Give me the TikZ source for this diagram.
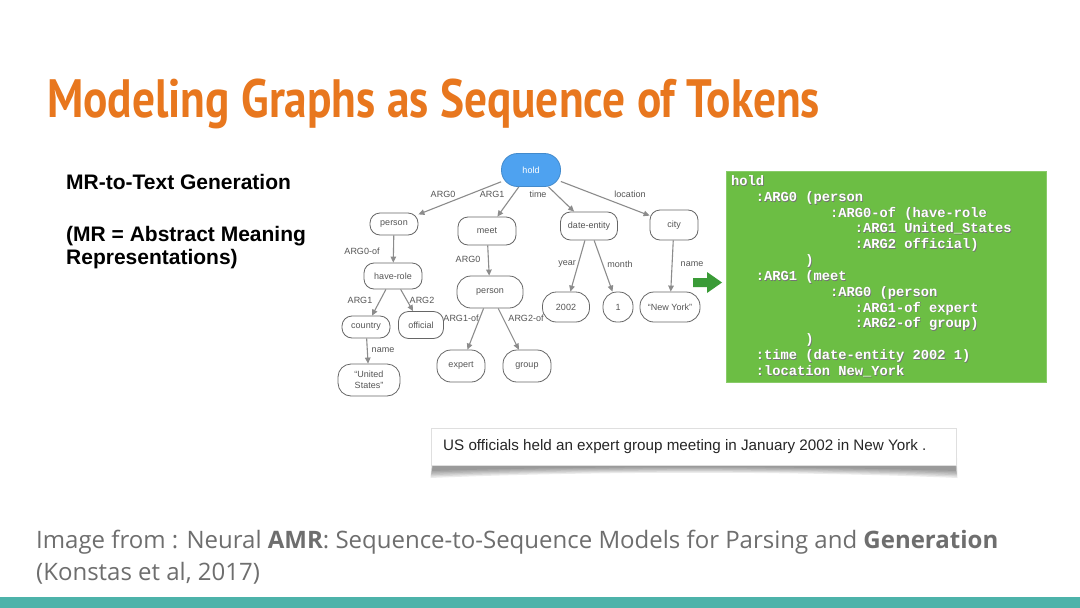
\documentclass[tikz,border=0pt]{standalone}
\usepackage{fontspec}
\setmainfont{Liberation Sans}
\setmonofont{Liberation Mono}
\newfontfamily\titlefont{PT Sans}
\newfontfamily\footfont{Open Sans}
\usetikzlibrary{arrows.meta}
\definecolor{titleorange}{RGB}{232,119,30}
\definecolor{holdblue}{RGB}{78,162,240}
\definecolor{codegreen}{RGB}{108,190,68}
\definecolor{arrowgreen}{RGB}{58,155,55}
\definecolor{footgray}{RGB}{110,110,110}
\definecolor{barteal}{RGB}{77,179,170}
\definecolor{edgegray}{RGB}{140,140,140}
\definecolor{nodetext}{RGB}{85,85,85}
\begin{document}
\begin{tikzpicture}[x=1pt,y=-1pt,
  amr/.style={draw=gray!80!black, line width=0.8pt, rounded corners=10pt, fill=white,
    font=\fontsize{9}{10.5}\selectfont, text=nodetext, inner sep=0pt, align=center},
  elab/.style={font=\fontsize{9}{10}\selectfont, text=nodetext, inner sep=0pt},
  rel/.style={draw=edgegray, line width=1.1pt, -{Triangle[length=6pt,width=5.5pt]}},
  codetext/.style={font=\ttfamily\bfseries\fontsize{13.75}{15.8}\selectfont, inner sep=0pt, anchor=base west},
  lefttext/.style={font=\bfseries\fontsize{21}{24}\selectfont, inner sep=0pt, anchor=base west, text=black},
  foot/.style={font=\footfont\fontsize{24}{28}\selectfont, text=footgray, inner sep=0pt, anchor=base west}
]
\useasboundingbox (0,0) rectangle (1080,608);
\fill[white] (0,0) rectangle (1080,608);

% title
\node[anchor=base west, text=titleorange, inner sep=0pt] (title) at (47,117)
  {\scalebox{0.84}[1]{\titlefont\bfseries\fontsize{54}{54}\selectfont Modeling Graphs as Sequence of Tokens}};

% left text
\node[lefttext] (mr1) at (66,189) {MR-to-Text Generation};
\node[lefttext] (mr2) at (66,241) {(MR = Abstract Meaning};
\node[lefttext] (mr3) at (66,264) {Representations)};

% AMR graph
\node[amr, fill=holdblue, draw=holdblue!85!black, text=white, minimum width=59, minimum height=33, rounded corners=16pt] (hold) at (531,170) {hold};
\node[amr, minimum width=48, minimum height=22] (person) at (394,224) {person};
\node[amr, minimum width=58, minimum height=28] (meet) at (487,231) {meet};
\node[amr, minimum width=57, minimum height=28] (date) at (589,226) {date-entity};
\node[amr, minimum width=48, minimum height=30] (city) at (674,225) {city};
\node[amr, minimum width=58, minimum height=26] (haverole) at (393,276) {have-role};
\node[amr, minimum width=48, minimum height=22] (country) at (366,327) {country};
\node[amr, minimum width=45, minimum height=27] (official) at (421,325) {official};
\node[amr, minimum width=62, minimum height=32, rounded corners=13pt] (us) at (369,380) {“United\\States”};
\node[amr, minimum width=66, minimum height=32, rounded corners=14pt] (person2) at (490,292) {person};
\node[amr, minimum width=48, minimum height=32, rounded corners=14pt] (expert) at (461,366) {expert};
\node[amr, minimum width=48, minimum height=32, rounded corners=14pt] (group) at (527,366) {group};
\node[amr, minimum width=47, minimum height=30, rounded corners=14pt] (y2002) at (566,307) {2002};
\node[amr, minimum width=30, minimum height=30, rounded corners=14pt] (one) at (618,307) {1};
\node[amr, minimum width=60, minimum height=30, rounded corners=14pt] (ny) at (670,307) {“New York”};

\draw[rel] (hold) -- (person);
\draw[rel] (hold) -- (meet);
\draw[rel] (hold) -- (date);
\draw[rel] (hold) -- (city);
\draw[rel] (person) -- (haverole);
\draw[rel] (haverole) -- (country);
\draw[rel] (haverole) -- (official);
\draw[rel] (country) -- (us);
\draw[rel] (meet) -- (person2);
\draw[rel] (person2) -- (expert);
\draw[rel] (person2) -- (group);
\draw[rel] (date) -- (y2002);
\draw[rel] (date) -- (one);
\draw[rel] (city) -- (ny);

\node[elab] (l1) at (443,194) {ARG0};
\node[elab] (l2) at (492,194) {ARG1};
\node[elab] (l3) at (538,194) {time};
\node[elab] (l4) at (630,194) {location};
\node[elab] (l5) at (362,251) {ARG0-of};
\node[elab] (l6) at (468,259) {ARG0};
\node[elab] (l7) at (567,264) {year};
\node[elab] (l8) at (620,264) {month};
\node[elab] (l9) at (692,264) {name};
\node[elab] (l10) at (360,300) {ARG1};
\node[elab] (l11) at (422,300) {ARG2};
\node[elab] (l12) at (461,318) {ARG1-of};
\node[elab] (l13) at (526,318) {ARG2-of};
\node[elab] (l14) at (383,350) {name};

% green arrow
\fill[arrowgreen] (693,278) -- (707,278) -- (707,272) -- (722,282.5) -- (707,293) -- (707,287) -- (693,287) -- cycle;

% code box
\node[fill=codegreen, draw=codegreen!80!white, line width=0.8pt, minimum width=320, minimum height=211, inner sep=0pt] (codebox) at (886,276.5) {};
\foreach \c/\t [count=\i] in {0/hold, 3/{:ARG0 (person}, 12/{:ARG0-of (have-role}, 15/{:ARG1 United\_States}, 15/{:ARG2 official)}, 9/{)}, 3/{:ARG1 (meet}, 12/{:ARG0 (person}, 15/{:ARG1-of expert}, 15/{:ARG2-of group)}, 9/{)}, 3/{:time (date-entity 2002 1)}, 3/{:location New\_York}} {
  \node[codetext, text=black!55] (cs\i) at (731.7+\c*8.25, 186.2+\i*15.83-15.83) {\t};
  \node[codetext, text=white] (code\i) at (731+\c*8.25, 185.5+\i*15.83-15.83) {\t};
}

% sentence box with shadow
\foreach \k in {0,...,5} {
  \fill[black, opacity=0.08] (434-\k*0.4,458) -- (955+\k*0.4,458) -- (956+\k*0.3,471+\k*1.4) .. controls (800,466+\k) and (590,466+\k) .. (432-\k*0.3,471+\k*1.4) -- cycle;
}
\node[fill=white, draw=gray!25, line width=0.6pt, minimum width=525, minimum height=37, inner sep=0pt] (sentbox) at (694,447) {};
\node[anchor=west, inner sep=0pt, font=\fontsize{15.2}{17}\selectfont, text=black!85] (sentence) at (443,447)
  {US officials held an expert group meeting in January 2002 in New York .};

% footer
\node[foot] (cite1) at (36,548) {Image from : Neural \textbf{AMR}: Sequence-to-Sequence Models for Parsing and \textbf{Generation}};
\node[foot] (cite2) at (36,580) {(Konstas et al, 2017)};
\fill[barteal] (0,597) rectangle (1080,608);
\end{tikzpicture}
\end{document}
